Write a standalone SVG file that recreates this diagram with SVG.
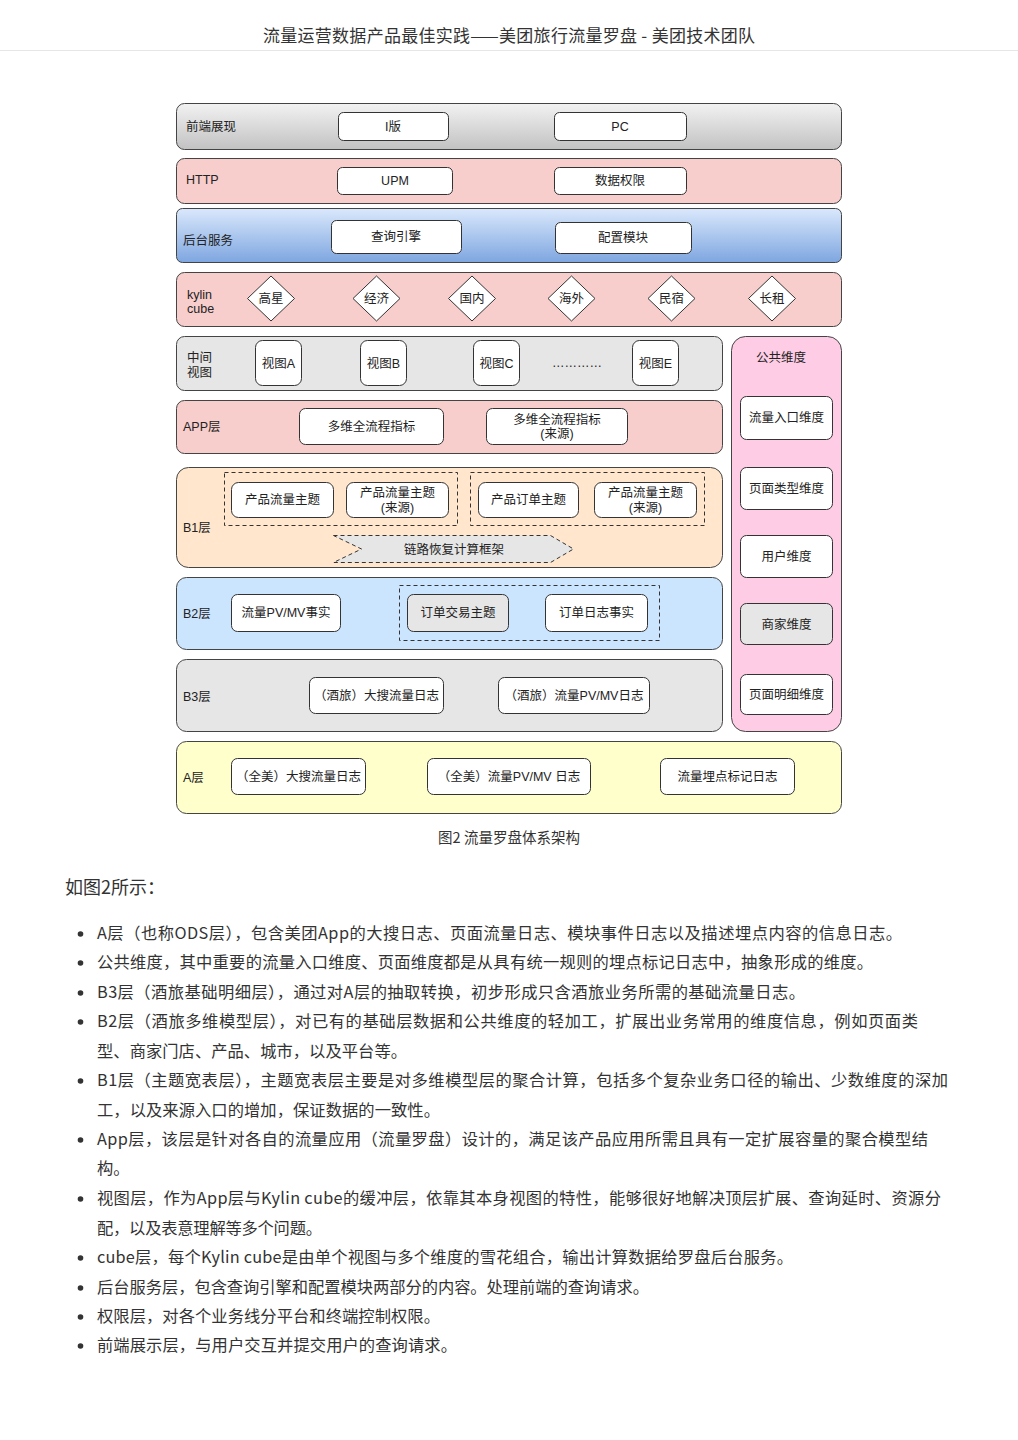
<svg xmlns="http://www.w3.org/2000/svg" width="1018" height="1440" viewBox="0 0 1018 1440">
<defs>
<linearGradient id="gGray" x1="0" y1="0" x2="0" y2="1"><stop offset="0" stop-color="#f2f2f2"/><stop offset="1" stop-color="#c2c2c2"/></linearGradient>
<linearGradient id="gBlue" x1="0" y1="0" x2="0" y2="1"><stop offset="0" stop-color="#dae8fc"/><stop offset="1" stop-color="#7ea6e0"/></linearGradient>
<style>
.t{font-family:"Liberation Sans","Noto Sans CJK SC",sans-serif;font-size:12.5px;fill:#222}
.c{text-anchor:middle;dominant-baseline:central}
.layer{stroke:#444;stroke-width:1}
.box{fill:#fff;stroke:#333;stroke-width:1}
.dash{fill:none;stroke:#333;stroke-width:1;stroke-dasharray:4 3}
.doc{font-family:"Noto Sans CJK SC","Liberation Sans",sans-serif;fill:#333}
.b{font-size:16.3px}
</style>
</defs>
<rect width="1018" height="1440" fill="#fff"/>
<text class="doc" x="509" y="42" text-anchor="middle" font-size="17" textLength="492" fill="#444">流量运营数据产品最佳实践——美团旅行流量罗盘 - 美团技术团队</text>
<line x1="0" y1="50.5" x2="1018" y2="50.5" stroke="#e6e6e6"/>

<g id="layer-frontend">
<rect class="layer" x="176.5" y="103.5" width="665" height="46" rx="8" fill="url(#gGray)"/>
<text class="t" x="186" y="131">前端展现</text>
<rect class="box" x="338.5" y="112.5" width="110" height="28" rx="5"/><text class="t c" x="393" y="126.5">I版</text>
<rect class="box" x="554.5" y="112.5" width="132" height="28" rx="5"/><text class="t c" x="620" y="126.5">PC</text>
</g>
<g id="layer-http">
<rect class="layer" x="176.5" y="158.5" width="665" height="45" rx="8" fill="#f8cecc"/>
<text class="t" x="186" y="184">HTTP</text>
<rect class="box" x="337.5" y="167.5" width="115" height="27" rx="5"/><text class="t c" x="395" y="181">UPM</text>
<rect class="box" x="554.5" y="167.5" width="132" height="27" rx="5"/><text class="t c" x="620" y="181">数据权限</text>
</g>
<g id="layer-backend">
<rect class="layer" x="176.5" y="208.5" width="665" height="54" rx="6" fill="url(#gBlue)"/>
<text class="t" x="183" y="245">后台服务</text>
<rect class="box" x="331.5" y="220.5" width="130" height="33" rx="5"/><text class="t c" x="396" y="237">查询引擎</text>
<rect class="box" x="555.5" y="222.5" width="136" height="31" rx="5"/><text class="t c" x="623" y="238">配置模块</text>
</g>
<g id="layer-cube">
<rect class="layer" x="176.5" y="272.5" width="665" height="54" rx="8" fill="#f8cecc"/>
<text class="t" x="187" y="299">kylin</text>
<text class="t" x="187" y="313">cube</text>
<g id="cube-gaoxing"><path class="box" d="M271 276 L294.5 298.5 L271 321 L247.5 298.5 Z"/><text class="t c" x="271" y="299">高星</text></g>
<g id="cube-jingji"><path class="box" d="M376.5 276 L400 298.5 L376.5 321 L353 298.5 Z"/><text class="t c" x="376.5" y="299">经济</text></g>
<g id="cube-guonei"><path class="box" d="M472 276 L495.5 298.5 L472 321 L448.5 298.5 Z"/><text class="t c" x="472" y="299">国内</text></g>
<g id="cube-haiwai"><path class="box" d="M571.5 276 L595 298.5 L571.5 321 L548 298.5 Z"/><text class="t c" x="571.5" y="299">海外</text></g>
<g id="cube-minsu"><path class="box" d="M671.5 276 L695 298.5 L671.5 321 L648 298.5 Z"/><text class="t c" x="671.5" y="299">民宿</text></g>
<g id="cube-changzu"><path class="box" d="M772 276 L795.5 298.5 L772 321 L748.5 298.5 Z"/><text class="t c" x="772" y="299">长租</text></g>
</g>
<g id="layer-view">
<rect class="layer" x="176.5" y="336.5" width="546" height="54" rx="8" fill="#e6e6e6"/>
<text class="t" x="187" y="362">中间</text>
<text class="t" x="187" y="377">视图</text>
<rect class="box" x="255.5" y="340.5" width="46" height="45" rx="7"/><text class="t c" x="278.5" y="363.5">视图A</text>
<rect class="box" x="360.5" y="340.5" width="46" height="45" rx="7"/><text class="t c" x="383.5" y="363.5">视图B</text>
<rect class="box" x="473.5" y="340.5" width="46" height="45" rx="7"/><text class="t c" x="496.5" y="363.5">视图C</text>
<text class="t c" x="577" y="363" font-size="9">…………</text>
<rect class="box" x="632.5" y="340.5" width="46" height="45" rx="7"/><text class="t c" x="655.5" y="363.5">视图E</text>
</g>
<g id="layer-dim">
<rect class="layer" x="731.5" y="336.5" width="110" height="395" rx="14" fill="#ffcce6"/>
<text class="t c" x="781" y="358">公共维度</text>
<rect class="box" x="740.5" y="396.5" width="92" height="43" rx="6"/><text class="t c" x="786.5" y="418">流量入口维度</text>
<rect class="box" x="740.5" y="467.5" width="92" height="42" rx="6"/><text class="t c" x="786.5" y="488.5">页面类型维度</text>
<rect class="box" x="740.5" y="535.5" width="92" height="42" rx="6"/><text class="t c" x="786.5" y="556.5">用户维度</text>
<rect class="box" x="740.5" y="603.5" width="92" height="41" rx="6" fill="#e6e6e6" style="fill:#e6e6e6"/><text class="t c" x="786.5" y="624.5">商家维度</text>
<rect class="box" x="740.5" y="674.5" width="92" height="40" rx="6"/><text class="t c" x="786.5" y="694.5">页面明细维度</text>
</g>
<g id="layer-app">
<rect class="layer" x="176.5" y="400.5" width="546" height="53" rx="8" fill="#f8cecc"/>
<text class="t" x="183" y="431">APP层</text>
<rect class="box" x="299.5" y="408.5" width="144" height="36" rx="6"/><text class="t c" x="371.5" y="426.5">多维全流程指标</text>
<rect class="box" x="486.5" y="408.5" width="141" height="36" rx="6"/><text class="t c" x="557" y="419.5">多维全流程指标</text><text class="t c" x="557" y="434">(来源)</text>
</g>
<g id="layer-b1">
<rect class="layer" x="176.5" y="467.5" width="546" height="100" rx="12" fill="#ffe6cc"/>
<text class="t" x="183" y="532">B1层</text>
<rect class="dash" x="224.5" y="472.5" width="233" height="53"/>
<rect class="dash" x="470.5" y="472.5" width="234" height="53"/>
<rect class="box" x="231.5" y="482.5" width="102" height="35" rx="7"/><text class="t c" x="282.5" y="500">产品流量主题</text>
<rect class="box" x="346.5" y="482.5" width="102" height="35" rx="7"/><text class="t c" x="397.5" y="492.5">产品流量主题</text><text class="t c" x="397.5" y="507.5">(来源)</text>
<rect class="box" x="478.5" y="482.5" width="100" height="35" rx="7"/><text class="t c" x="528.5" y="500">产品订单主题</text>
<rect class="box" x="594.5" y="482.5" width="102" height="35" rx="7"/><text class="t c" x="645.5" y="492.5">产品流量主题</text><text class="t c" x="645.5" y="507.5">(来源)</text>
<path d="M333.5 535.5 L550.5 535.5 L573.5 549 L550.5 562.5 L333.5 562.5 L361.5 549 Z" fill="#e6e6e6" stroke="#333" stroke-dasharray="4 3"/>
<text class="t c" x="454" y="549.5">链路恢复计算框架</text>
</g>
<g id="layer-b2">
<rect class="layer" x="176.5" y="577.5" width="546" height="72" rx="10" fill="#cce5ff"/>
<text class="t" x="183" y="618">B2层</text>
<rect class="box" x="231.5" y="594.5" width="109" height="37" rx="6"/><text class="t c" x="286" y="613">流量PV/MV事实</text>
<rect class="dash" x="399.5" y="585.5" width="260" height="55"/>
<rect class="box" x="407.5" y="594.5" width="101" height="37" rx="6" style="fill:#e6e6e6"/><text class="t c" x="458" y="613">订单交易主题</text>
<rect class="box" x="545.5" y="594.5" width="102" height="37" rx="6"/><text class="t c" x="596.5" y="613">订单日志事实</text>
</g>
<g id="layer-b3">
<rect class="layer" x="176.5" y="659.5" width="546" height="72" rx="10" fill="#e6e6e6"/>
<text class="t" x="183" y="701">B3层</text>
<rect class="box" x="309.5" y="677.5" width="134" height="36" rx="6"/><text class="t c" x="376.5" y="696">（酒旅）大搜流量日志</text>
<rect class="box" x="498.5" y="677.5" width="151" height="36" rx="6"/><text class="t c" x="574" y="696">（酒旅）流量PV/MV日志</text>
</g>
<g id="layer-a">
<rect class="layer" x="176.5" y="741.5" width="665" height="72" rx="10" fill="#ffffcc"/>
<text class="t" x="183" y="782">A层</text>
<rect class="box" x="231.5" y="758.5" width="134" height="36" rx="6"/><text class="t c" x="298.5" y="777">（全美）大搜流量日志</text>
<rect class="box" x="427.5" y="758.5" width="163" height="36" rx="6"/><text class="t c" x="509" y="777">（全美）流量PV/MV 日志</text>
<rect class="box" x="660.5" y="758.5" width="134" height="36" rx="6"/><text class="t c" x="727.5" y="777">流量埋点标记日志</text>
</g>
<g id="connectors"></g>

<text class="doc" x="509" y="843" text-anchor="middle" font-size="14.5" fill="#777">图2 流量罗盘体系架构</text>
<text class="doc" x="65" y="894" font-size="18">如图2所示：</text>

<g id="bullets" fill="#333">
<circle cx="80.5" cy="934" r="2.8"/><circle cx="80.5" cy="963" r="2.8"/><circle cx="80.5" cy="993" r="2.8"/><circle cx="80.5" cy="1022" r="2.8"/><circle cx="80.5" cy="1081" r="2.8"/><circle cx="80.5" cy="1140" r="2.8"/><circle cx="80.5" cy="1199" r="2.8"/><circle cx="80.5" cy="1258" r="2.8"/><circle cx="80.5" cy="1288" r="2.8"/><circle cx="80.5" cy="1317" r="2.8"/><circle cx="80.5" cy="1346" r="2.8"/>
</g>
<g class="doc b">
<text x="97" y="939" textLength="805">A层（也称ODS层），包含美团App的大搜日志、页面流量日志、模块事件日志以及描述埋点内容的信息日志。</text>
<text x="97" y="968" textLength="776">公共维度，其中重要的流量入口维度、页面维度都是从具有统一规则的埋点标记日志中，抽象形成的维度。</text>
<text x="97" y="998" textLength="708">B3层（酒旅基础明细层），通过对A层的抽取转换，初步形成只含酒旅业务所需的基础流量日志。</text>
<text x="97" y="1027" textLength="821">B2层（酒旅多维模型层），对已有的基础层数据和公共维度的轻加工，扩展出业务常用的维度信息，例如页面类</text>
<text x="97" y="1057" textLength="310">型、商家门店、产品、城市，以及平台等。</text>
<text x="97" y="1086" textLength="851">B1层（主题宽表层），主题宽表层主要是对多维模型层的聚合计算，包括多个复杂业务口径的输出、少数维度的深加</text>
<text x="97" y="1116" textLength="343">工，以及来源入口的增加，保证数据的一致性。</text>
<text x="97" y="1145" textLength="831">App层，该层是针对各自的流量应用（流量罗盘）设计的，满足该产品应用所需且具有一定扩展容量的聚合模型结</text>
<text x="97" y="1174">构。</text>
<text x="97" y="1204" textLength="844">视图层，作为App层与Kylin cube的缓冲层，依靠其本身视图的特性，能够很好地解决顶层扩展、查询延时、资源分</text>
<text x="97" y="1234" textLength="225">配，以及表意理解等多个问题。</text>
<text x="97" y="1263" textLength="696">cube层，每个Kylin cube是由单个视图与多个维度的雪花组合，输出计算数据给罗盘后台服务。</text>
<text x="97" y="1293" textLength="552">后台服务层，包含查询引擎和配置模块两部分的内容。处理前端的查询请求。</text>
<text x="97" y="1322" textLength="343">权限层，对各个业务线分平台和终端控制权限。</text>
<text x="97" y="1351" textLength="360">前端展示层，与用户交互并提交用户的查询请求。</text>
</g>
</svg>
